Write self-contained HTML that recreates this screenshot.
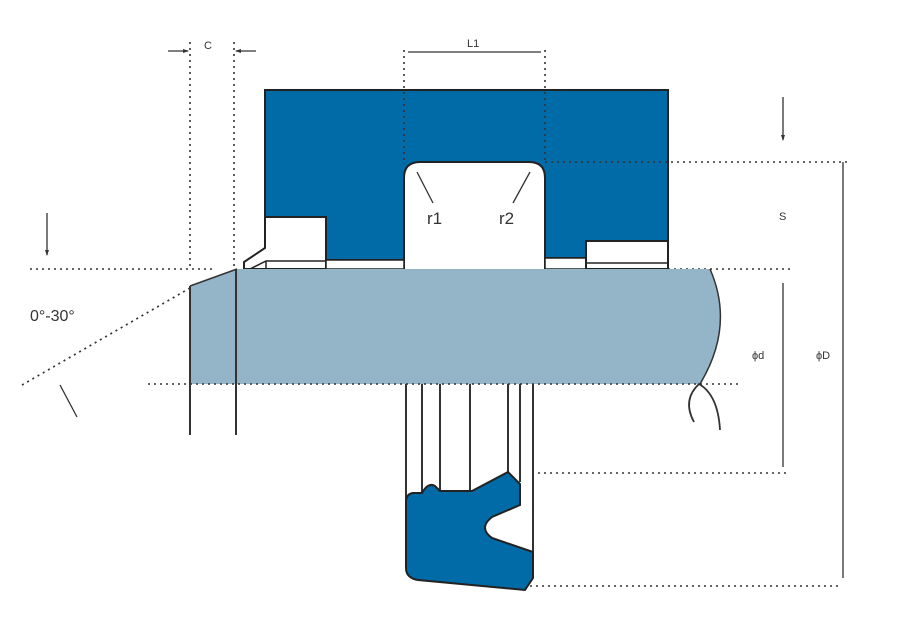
<!DOCTYPE html>
<html><head><style>body{margin:0;background:#fff}svg{display:block}text{font-family:"Liberation Sans",sans-serif;fill:#333}</style></head><body>
<svg width="900" height="634" viewBox="0 0 900 634">
<g stroke="#333" fill="none" stroke-width="1.6" stroke-dasharray="2,4">
<line x1="190" y1="42" x2="190" y2="268"/><line x1="234" y1="42" x2="234" y2="268"/>
<line x1="30" y1="269" x2="215" y2="269"/><line x1="668" y1="269" x2="792" y2="269"/>
<line x1="538" y1="473" x2="788" y2="473"/><line x1="530" y1="586" x2="840" y2="586"/>
<line x1="22" y1="385" x2="190" y2="288"/>
</g>
<path d="M265,90H668V241H586V258H545V269H404V260H326V217H265Z" fill="#006ba6" stroke="#222" stroke-width="2"/>
<path d="M404,269V178Q404,162 420,162H529Q545,162 545,178V269" fill="#fff" stroke="#222" stroke-width="2"/>
<g stroke="#333" fill="none" stroke-width="1.6" stroke-dasharray="2,4">
<line x1="404" y1="50" x2="404" y2="162"/><line x1="545" y1="50" x2="545" y2="162"/>
<line x1="545" y1="162" x2="848" y2="162"/>
</g>
<path d="M265,217H326V269H244V262L265,248Z" fill="#fff" stroke="#222" stroke-width="2"/>
<path d="M250,269L266,261H326" fill="none" stroke="#222" stroke-width="1.5"/>
<line x1="266" y1="261" x2="266" y2="269" stroke="#222" stroke-width="1.5"/>
<path d="M326,260H404V269H326Z M545,258H586V269H545Z" fill="#fff" stroke="#222" stroke-width="1.5"/>
<path d="M586,241H668V269H586Z" fill="#fff" stroke="#222" stroke-width="2"/>
<line x1="586" y1="263" x2="668" y2="263" stroke="#222" stroke-width="1.5"/>
<path d="M237,269H710Q735,326 700,384H190V286Z" fill="#94b4c8"/>
<path d="M710,269Q735,326 700,384" fill="none" stroke="#333" stroke-width="1.5"/>
<path d="M237,269L190,286" stroke="#333" stroke-width="1.5"/>
<line x1="148" y1="384" x2="740" y2="384" stroke="#333" stroke-width="1.6" stroke-dasharray="2,4"/>
<g stroke="#333" stroke-width="2">
<line x1="190" y1="286" x2="190" y2="435"/><line x1="236" y1="269" x2="236" y2="435"/>
<line x1="406" y1="384" x2="406" y2="500"/><line x1="422" y1="384" x2="422" y2="493"/>
<line x1="440" y1="384" x2="440" y2="491"/><line x1="470" y1="384" x2="470" y2="491"/>
<line x1="508" y1="384" x2="508" y2="473"/><line x1="520" y1="384" x2="520" y2="482"/>
<line x1="533" y1="384" x2="533" y2="552"/>
</g>
<path d="M413,493L422,493Q428,482 435,486L440,491H472L508,472L520,484V505L492,517Q478,528 492,538L533,552V578L525,590L418,580Q406,578 406,568V502Q406,494 413,493Z" fill="#006ba6" stroke="#222" stroke-width="2"/>
<path d="M694,422Q682,400 699,384Q718,395 720,430" fill="none" stroke="#333" stroke-width="1.8"/>
<g stroke="#333" stroke-width="1.3">
<line x1="60" y1="385" x2="77" y2="417"/>
<line x1="417" y1="172" x2="433" y2="203"/><line x1="530" y1="172" x2="513" y2="203"/>
<line x1="408" y1="52" x2="541" y2="52"/>
<line x1="168" y1="51" x2="188" y2="51"/><line x1="236" y1="51" x2="256" y2="51"/>
<line x1="783" y1="97" x2="783" y2="140"/><line x1="47" y1="213" x2="47" y2="255"/>
<line x1="783" y1="283" x2="783" y2="467"/><line x1="843" y1="162" x2="843" y2="578"/>
</g>
<g fill="#333">
<path d="M189,51l-6,-2v4z M235,51l6,-2v4z M783,141l-2,-6h4z M47,256l-2,-6h4z"/>
</g>
<text x="204" y="49" font-size="11">C</text>
<text x="467" y="47" font-size="11">L1</text>
<text x="427" y="224" font-size="17">r1</text>
<text x="499" y="224" font-size="17">r2</text>
<text x="779" y="220" font-size="11">S</text>
<text x="752" y="359" font-size="11">ϕd</text>
<text x="816" y="359" font-size="11">ϕD</text>
<text x="30" y="321" font-size="16">0°-30°</text>
</svg></body></html>
